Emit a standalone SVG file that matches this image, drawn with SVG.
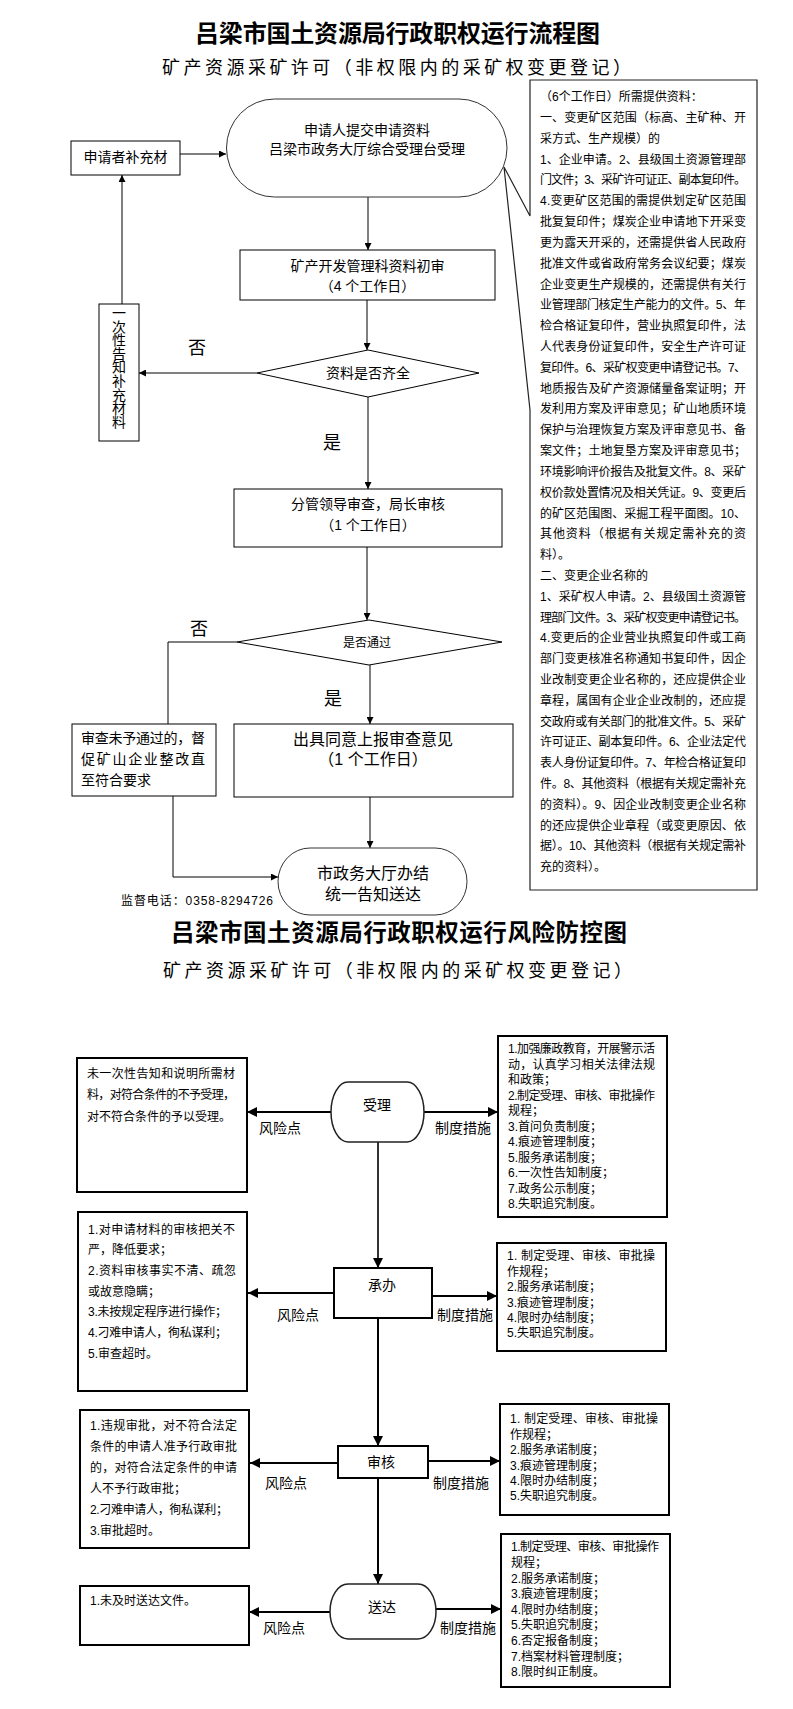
<svg xmlns="http://www.w3.org/2000/svg" width="793" height="1709" viewBox="0 0 793 1709">
<defs>
<style>
text{font-family:'Liberation Sans','Noto Sans CJK SC',sans-serif;fill:#000}
.b1{fill:#fff;stroke:#000;stroke-width:1}
.b2{fill:#fff;stroke:#000;stroke-width:2}
.ln1{fill:none;stroke:#000;stroke-width:1}
.ln2{fill:none;stroke:#000;stroke-width:2}
.f12{font-size:12px}
.f14{font-size:14px}
.f16{font-size:16px}
.f18{font-size:18px}
.mid{text-anchor:middle}
.title{font-size:24px;font-weight:700}
</style>
<marker id="a1" viewBox="0 0 10 10" refX="10" refY="5" markerWidth="7" markerHeight="7" markerUnits="userSpaceOnUse" orient="auto">
<path d="M0,0 L10,5 L0,10 z" fill="#000"/>
</marker>
<marker id="a2" viewBox="0 0 10 10" refX="10" refY="5" markerWidth="10" markerHeight="10" markerUnits="userSpaceOnUse" orient="auto">
<path d="M0,0 L10,5 L0,10 z" fill="#000"/>
</marker>
</defs>
<rect width="793" height="1709" fill="#fff"/>

<g id="titles">
<text class="title" x="195" y="42" textLength="405" lengthAdjust="spacing">吕梁市国土资源局行政职权运行流程图</text>
<text class="f18" x="162" y="73.5" textLength="469" lengthAdjust="spacing">矿产资源采矿许可（非权限内的采矿权变更登记）</text>
<text class="title" style="font-size:23.5px" x="171" y="941" textLength="456" lengthAdjust="spacing">吕梁市国土资源局行政职权运行风险防控图</text>
<text class="f18" x="163" y="977" textLength="469" lengthAdjust="spacing">矿产资源采矿许可（非权限内的采矿权变更登记）</text>
</g>

<g id="connectors">
<line class="ln1" x1="368" y1="197" x2="368" y2="250" marker-end="url(#a1)"/>
<line class="ln1" x1="367" y1="300" x2="367" y2="350" marker-end="url(#a1)"/>
<line class="ln1" x1="257" y1="373" x2="139" y2="373" marker-end="url(#a1)"/>
<line class="ln1" x1="122" y1="304" x2="122" y2="175" marker-end="url(#a1)"/>
<line class="ln1" x1="180" y1="154" x2="226" y2="154" marker-end="url(#a1)"/>
<line class="ln1" x1="368" y1="397" x2="368" y2="489" marker-end="url(#a1)"/>
<line class="ln1" x1="367" y1="547" x2="367" y2="620" marker-end="url(#a1)"/>
<polyline class="ln1" points="237,642 168,642 168,724"/>
<line class="ln1" x1="370" y1="665" x2="370" y2="724" marker-end="url(#a1)"/>
<line class="ln1" x1="370" y1="797" x2="370" y2="848" marker-end="url(#a1)"/>
<polyline class="ln1" points="173,796 173,877 278,877" marker-end="url(#a1)"/>

<line class="ln2" x1="331" y1="1112" x2="247" y2="1112" marker-end="url(#a2)"/>
<line class="ln2" x1="424" y1="1112" x2="498" y2="1112" marker-end="url(#a2)"/>
<line class="ln2" style="stroke:#333" x1="378" y1="1142" x2="378" y2="1268" marker-end="url(#a2)"/>
<line class="ln2" x1="334" y1="1293" x2="248" y2="1293" marker-end="url(#a2)"/>
<line class="ln2" x1="432" y1="1296" x2="497" y2="1296" marker-end="url(#a2)"/>
<line class="ln2" x1="378" y1="1318" x2="378" y2="1446" marker-end="url(#a2)"/>
<line class="ln2" x1="338" y1="1463" x2="250" y2="1463" marker-end="url(#a2)"/>
<line class="ln2" x1="428" y1="1461" x2="500" y2="1461" marker-end="url(#a2)"/>
<line class="ln2" x1="378" y1="1478" x2="378" y2="1584" marker-end="url(#a2)"/>
<line class="ln2" x1="330" y1="1612" x2="249" y2="1612" marker-end="url(#a2)"/>
<line class="ln2" x1="436" y1="1609" x2="501" y2="1609" marker-end="url(#a2)"/>
</g>

<g id="n-start">
<rect class="b1" style="stroke:#333" x="226.5" y="99" width="280.5" height="98" rx="48" ry="49"/>
<text class="f14 mid" x="367" y="134.5">申请人提交申请资料</text>
<text class="f14 mid" x="367" y="154">吕梁市政务大厅综合受理台受理</text>
</g>

<g id="n-supply">
<rect class="b1" x="71" y="141" width="109" height="34"/>
<text class="f14 mid" x="125.5" y="162">申请者补充材</text>
</g>

<g id="n-notice">
<rect class="b1" x="99" y="304" width="40" height="137"/>
<text class="f14 mid"><tspan x="119" y="318">一</tspan><tspan x="119" y="331.6">次</tspan><tspan x="119" y="345.2">性</tspan><tspan x="119" y="358.8">告</tspan><tspan x="119" y="372.4">知</tspan><tspan x="119" y="386">补</tspan><tspan x="119" y="399.6">充</tspan><tspan x="119" y="413.2">材</tspan><tspan x="119" y="426.8">料</tspan></text>
</g>

<g id="n-initial">
<rect class="b1" x="240" y="250" width="255" height="50"/>
<text class="f14 mid" x="367.5" y="271">矿产开发管理科资料初审</text>
<text class="f14 mid" x="367.5" y="291">（4 个工作日）</text>
</g>

<g id="n-check1">
<polygon class="b1" points="368,350 479,373 368,397 257,373"/>
<text class="f14 mid" x="368" y="378">资料是否齐全</text>
</g>
<g id="lbl-top">
<text class="f18 mid" x="197" y="353.5">否</text>
<text class="f18 mid" x="332" y="448.5">是</text>
<text class="f18 mid" x="199" y="634.5">否</text>
<text class="f18 mid" x="333" y="704.5">是</text>
</g>

<g id="n-review">
<rect class="b1" x="234" y="489" width="268" height="58"/>
<text class="f14 mid" x="368" y="509">分管领导审查，局长审核</text>
<text class="f14 mid" x="368" y="530">（1 个工作日）</text>
</g>

<g id="n-check2">
<polygon class="b1" points="369,620 502,642 369,665 237,642"/>
<text class="f12 mid" x="367" y="647">是否通过</text>
</g>

<g id="n-reject">
<rect class="b1" x="72" y="724" width="144" height="72"/>
<text class="f14" x="81" y="743" textLength="124" lengthAdjust="spacing">审查未予通过的，督</text>
<text class="f14" x="81" y="764" textLength="124" lengthAdjust="spacing">促矿山企业整改直</text>
<text class="f14" x="81" y="785">至符合要求</text>
</g>

<g id="n-opinion">
<rect class="b1" x="234" y="724" width="279" height="73"/>
<text class="f16 mid" x="373" y="745">出具同意上报审查意见</text>
<text class="f16 mid" x="373" y="765">（1 个工作日）</text>
</g>

<g id="n-end">
<rect class="b1" style="stroke:#333" x="278" y="848" width="189" height="67" rx="32" ry="33.5"/>
<text class="f16 mid" x="373" y="879">市政务大厅办结</text>
<text class="f16 mid" x="373" y="900">统一告知送达</text>
</g>

<g id="phone">
<text class="f12" x="121" y="905" textLength="152" lengthAdjust="spacing">监督电话：0358-8294726</text>
</g>

<g id="n-materials">
<path d="M530,80 H757 V890 H530 V410 L504,167 L530,216 Z" fill="#fff" stroke="#222" stroke-width="1.2"/>
<g class="f12">
<text x="540" y="101">（6个工作日）所需提供资料：</text>
<text x="540" y="122" textLength="206" lengthAdjust="spacing">一、变更矿区范围（标高、主矿种、开</text>
<text x="540" y="143">采方式、生产规模）的</text>
<text x="540" y="164" textLength="206" lengthAdjust="spacing">1、企业申请。2、县级国土资源管理部</text>
<text x="540" y="184" textLength="206" lengthAdjust="spacing">门文件；3、采矿许可证正、副本复印件。</text>
<text x="540" y="205" textLength="206" lengthAdjust="spacing">4.变更矿区范围的需提供划定矿区范围</text>
<text x="540" y="226" textLength="206" lengthAdjust="spacing">批复复印件；煤炭企业申请地下开采变</text>
<text x="540" y="247" textLength="206" lengthAdjust="spacing">更为露天开采的，还需提供省人民政府</text>
<text x="540" y="268" textLength="206" lengthAdjust="spacing">批准文件或省政府常务会议纪要；煤炭</text>
<text x="540" y="289" textLength="206" lengthAdjust="spacing">企业变更生产规模的，还需提供有关行</text>
<text x="540" y="309" textLength="206" lengthAdjust="spacing">业管理部门核定生产能力的文件。5、年</text>
<text x="540" y="330" textLength="206" lengthAdjust="spacing">检合格证复印件，营业执照复印件，法</text>
<text x="540" y="351" textLength="206" lengthAdjust="spacing">人代表身份证复印件，安全生产许可证</text>
<text x="540" y="372" textLength="206" lengthAdjust="spacing">复印件。6、采矿权变更申请登记书。7、</text>
<text x="540" y="393" textLength="206" lengthAdjust="spacing">地质报告及矿产资源储量备案证明；开</text>
<text x="540" y="413" textLength="206" lengthAdjust="spacing">发利用方案及评审意见；矿山地质环境</text>
<text x="540" y="434" textLength="206" lengthAdjust="spacing">保护与治理恢复方案及评审意见书、备</text>
<text x="540" y="455" textLength="206" lengthAdjust="spacing">案文件；土地复垦方案及评审意见书；</text>
<text x="540" y="476" textLength="206" lengthAdjust="spacing">环境影响评价报告及批复文件。8、采矿</text>
<text x="540" y="497" textLength="206" lengthAdjust="spacing">权价款处置情况及相关凭证。9、变更后</text>
<text x="540" y="518" textLength="206" lengthAdjust="spacing">的矿区范围图、采掘工程平面图。10、</text>
<text x="540" y="538" textLength="206" lengthAdjust="spacing">其他资料（根据有关规定需补充的资</text>
<text x="540" y="559">料）。</text>
<text x="540" y="580">二、变更企业名称的</text>
<text x="540" y="601" textLength="206" lengthAdjust="spacing">1、采矿权人申请。2、县级国土资源管</text>
<text x="540" y="622" textLength="206" lengthAdjust="spacing">理部门文件。3、采矿权变更申请登记书。</text>
<text x="540" y="642" textLength="206" lengthAdjust="spacing">4.变更后的企业营业执照复印件或工商</text>
<text x="540" y="663" textLength="206" lengthAdjust="spacing">部门变更核准名称通知书复印件，因企</text>
<text x="540" y="684" textLength="206" lengthAdjust="spacing">业改制变更企业名称的，还应提供企业</text>
<text x="540" y="705" textLength="206" lengthAdjust="spacing">章程，属国有企业企业改制的，还应提</text>
<text x="540" y="726" textLength="206" lengthAdjust="spacing">交政府或有关部门的批准文件。5、采矿</text>
<text x="540" y="746" textLength="206" lengthAdjust="spacing">许可证正、副本复印件。6、企业法定代</text>
<text x="540" y="767" textLength="206" lengthAdjust="spacing">表人身份证复印件。7、年检合格证复印</text>
<text x="540" y="788" textLength="206" lengthAdjust="spacing">件。8、其他资料（根据有关规定需补充</text>
<text x="540" y="809" textLength="206" lengthAdjust="spacing">的资料）。9、因企业改制变更企业名称</text>
<text x="540" y="830" textLength="206" lengthAdjust="spacing">的还应提供企业章程（或变更原因、依</text>
<text x="540" y="850" textLength="206" lengthAdjust="spacing">据）。10、其他资料（根据有关规定需补</text>
<text x="540" y="871">充的资料）。</text>
</g>
</g>

<g id="r-accept">
<rect class="b1" style="stroke:#222;stroke-width:1.5" x="331" y="1082" width="93" height="60" rx="17" ry="30"/>
<text class="f14 mid" x="377" y="1110">受理</text>
</g>
<g id="r-accept-risk">
<rect class="b2" x="77" y="1058" width="170" height="134"/>
<text class="f12" x="87" y="1077.5" textLength="148" lengthAdjust="spacing">未一次性告知和说明所需材</text>
<text class="f12" x="87" y="1099" textLength="148" lengthAdjust="spacing">料，对符合条件的不予受理，</text>
<text class="f12" x="87" y="1120.5">对不符合条件的予以受理。</text>
</g>
<g id="r-accept-measure">
<rect class="b2" x="498" y="1036" width="169" height="181"/>
<text class="f12" x="508" y="1053.3" textLength="147" lengthAdjust="spacing">1.加强廉政教育，开展警示活</text>
<text class="f12" x="508" y="1068.8" textLength="147" lengthAdjust="spacing">动，认真学习相关法律法规</text>
<text class="f12" x="508" y="1084.3">和政策；</text>
<text class="f12" x="508" y="1099.8" textLength="147" lengthAdjust="spacing">2.制定受理、审核、审批操作</text>
<text class="f12" x="508" y="1115.3">规程；</text>
<text class="f12" x="508" y="1130.8">3.首问负责制度；</text>
<text class="f12" x="508" y="1146.3">4.痕迹管理制度；</text>
<text class="f12" x="508" y="1161.8">5.服务承诺制度；</text>
<text class="f12" x="508" y="1177.3">6.一次性告知制度；</text>
<text class="f12" x="508" y="1192.8">7.政务公示制度；</text>
<text class="f12" x="508" y="1208.3">8.失职追究制度。</text>
</g>

<g id="r-handle">
<rect class="b2" x="334" y="1268" width="98" height="50"/>
<text class="f14 mid" x="382" y="1290">承办</text>
</g>
<g id="r-handle-risk">
<rect class="b2" x="78" y="1212" width="169" height="179"/>
<text class="f12" x="88" y="1233.5" textLength="147" lengthAdjust="spacing">1.对申请材料的审核把关不</text>
<text class="f12" x="88" y="1254.2">严，降低要求；</text>
<text class="f12" x="88" y="1274.9" textLength="148" lengthAdjust="spacing">2.资料审核事实不清、疏忽</text>
<text class="f12" x="88" y="1295.6">或故意隐瞒；</text>
<text class="f12" x="88" y="1316.3" textLength="139" lengthAdjust="spacing">3.未按规定程序进行操作；</text>
<text class="f12" x="88" y="1337" textLength="139" lengthAdjust="spacing">4.刁难申请人，徇私谋利；</text>
<text class="f12" x="88" y="1357.7">5.审查超时。</text>
</g>
<g id="r-handle-measure">
<rect class="b2" x="497" y="1243" width="169" height="108"/>
<text class="f12" x="507" y="1260.3" textLength="148" lengthAdjust="spacing">1. 制定受理、审核、审批操</text>
<text class="f12" x="507" y="1275.7">作规程；</text>
<text class="f12" x="507" y="1291.1">2.服务承诺制度；</text>
<text class="f12" x="507" y="1306.5">3.痕迹管理制度；</text>
<text class="f12" x="507" y="1321.9">4.限时办结制度；</text>
<text class="f12" x="507" y="1337.3">5.失职追究制度。</text>
</g>

<g id="r-audit">
<rect class="b2" x="338" y="1446" width="90" height="32"/>
<text class="f14 mid" x="381" y="1467">审核</text>
</g>
<g id="r-audit-risk">
<rect class="b2" x="80" y="1410" width="169" height="138"/>
<text class="f12" x="90" y="1430.3" textLength="147" lengthAdjust="spacing">1.违规审批，对不符合法定</text>
<text class="f12" x="90" y="1451.3" textLength="147" lengthAdjust="spacing">条件的申请人准予行政审批</text>
<text class="f12" x="90" y="1472.3" textLength="147" lengthAdjust="spacing">的，对符合法定条件的申请</text>
<text class="f12" x="90" y="1493.3">人不予行政审批；</text>
<text class="f12" x="90" y="1514.3" textLength="138" lengthAdjust="spacing">2.刁难申请人，徇私谋利；</text>
<text class="f12" x="90" y="1535.3">3.审批超时。</text>
</g>
<g id="r-audit-measure">
<rect class="b2" x="500" y="1404" width="169" height="111"/>
<text class="f12" x="510" y="1423.3" textLength="148" lengthAdjust="spacing">1. 制定受理、审核、审批操</text>
<text class="f12" x="510" y="1438.7">作规程；</text>
<text class="f12" x="510" y="1454.1">2.服务承诺制度；</text>
<text class="f12" x="510" y="1469.5">3.痕迹管理制度；</text>
<text class="f12" x="510" y="1484.9">4.限时办结制度；</text>
<text class="f12" x="510" y="1500.3">5.失职追究制度。</text>
</g>

<g id="r-deliver">
<rect class="b1" style="stroke:#222;stroke-width:1.5" x="330" y="1584" width="106" height="55" rx="18" ry="27.5"/>
<text class="f14 mid" x="382" y="1612">送达</text>
</g>
<g id="r-deliver-risk">
<rect class="b2" x="80" y="1586" width="169" height="59"/>
<text class="f12" x="90" y="1605.3">1.未及时送达文件。</text>
</g>
<g id="r-deliver-measure">
<rect class="b2" x="501" y="1534" width="169" height="153"/>
<text class="f12" x="511" y="1551.3" textLength="148" lengthAdjust="spacing">1.制定受理、审核、审批操作</text>
<text class="f12" x="511" y="1566.9">规程；</text>
<text class="f12" x="511" y="1582.5">2.服务承诺制度；</text>
<text class="f12" x="511" y="1598.1">3.痕迹管理制度；</text>
<text class="f12" x="511" y="1613.7">4.限时办结制度；</text>
<text class="f12" x="511" y="1629.3">5.失职追究制度；</text>
<text class="f12" x="511" y="1644.9">6.否定报备制度；</text>
<text class="f12" x="511" y="1660.5">7.档案材料管理制度；</text>
<text class="f12" x="511" y="1676.1">8.限时纠正制度。</text>
</g>

<g id="r-labels">
<text class="f14 mid" x="280" y="1133">风险点</text>
<text class="f14 mid" x="463" y="1133">制度措施</text>
<text class="f14 mid" x="298" y="1320">风险点</text>
<text class="f14 mid" x="465" y="1320">制度措施</text>
<text class="f14 mid" x="286" y="1488">风险点</text>
<text class="f14 mid" x="461" y="1488">制度措施</text>
<text class="f14 mid" x="284" y="1633">风险点</text>
<text class="f14 mid" x="468" y="1633">制度措施</text>
</g>
</svg>
